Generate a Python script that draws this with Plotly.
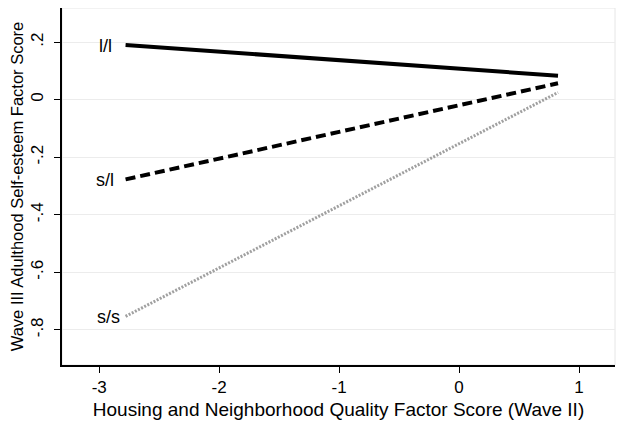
import plotly.graph_objects as go

x_vals = [-2.78, 0.825]
ll_vals = [0.19, 0.083]
sl_vals = [-0.277, 0.057]
ss_vals = [-0.753, 0.025]
labels = ["l/l", "s/l", "s/s"]
y_ticks = [0.2, 0, -0.2, -0.4, -0.6, -0.8]
y_ticktext = [".2", "0", "-.2", "-.4", "-.6", "-.8"]
x_ticks = [-3, -2, -1, 0, 1]
x_ticktext = ["-3", "-2", "-1", "0", "1"]

fig = go.Figure()
fig.add_trace(go.Scatter(x=x_vals, y=ll_vals, mode="lines",
                         line=dict(color="black", width=4), showlegend=False))
fig.add_trace(go.Scatter(x=x_vals, y=sl_vals, mode="lines",
                         line=dict(color="black", width=4, dash="10px,5px"), showlegend=False))
fig.add_trace(go.Scatter(x=x_vals, y=ss_vals, mode="lines",
                         line=dict(color="#a0a0a0", width=3, dash="2px,1.5px"), showlegend=False))

for lab, ys, xs in zip(labels, [ll_vals, sl_vals, ss_vals], [-12, -10, -4]):
    fig.add_annotation(x=x_vals[0], y=ys[0], text=lab, showarrow=False,
                       xanchor="right", xshift=xs, yshift=-1,
                       font=dict(size=18, color="black", family="Liberation Sans"))

fig.add_shape(type="rect", xref="paper", yref="paper", x0=0, x1=1, y0=0, y1=1,
              line=dict(color="#e6e6e6", width=1), layer="below")

# page body has an 8px default margin; figure sized to fit the 624x425 window
fig.update_layout(
    width=616, height=417,
    margin=dict(l=54, r=9, t=0, b=60),
    paper_bgcolor="white", plot_bgcolor="white",
    font=dict(family="Liberation Sans", color="black"),
    xaxis=dict(range=[-3.31, 1.30], tickvals=x_ticks, ticktext=x_ticktext,
               ticks="outside", ticklen=6,
               tickcolor="black", showline=True, linecolor="black", linewidth=2,
               showgrid=False, zeroline=False, tickfont=dict(size=17), automargin=False,
               title=dict(text="Housing and Neighborhood Quality Factor Score (Wave II)",
                          font=dict(size=19), standoff=6)),
    yaxis=dict(range=[-0.922, 0.3185], tickvals=y_ticks, ticktext=y_ticktext,
               tickangle=-90, ticks="outside", ticklen=6, tickcolor="black",
               showline=True, linecolor="black", linewidth=2,
               showgrid=True, gridcolor="#ececec", gridwidth=1, zeroline=False,
               tickfont=dict(size=17), automargin=False, ticklabelstandoff=4,
               title=dict(text="Wave III Adulthood Self-esteem Factor Score",
                          font=dict(size=16.5), standoff=4)),
)

fig.write_html("out.html")
